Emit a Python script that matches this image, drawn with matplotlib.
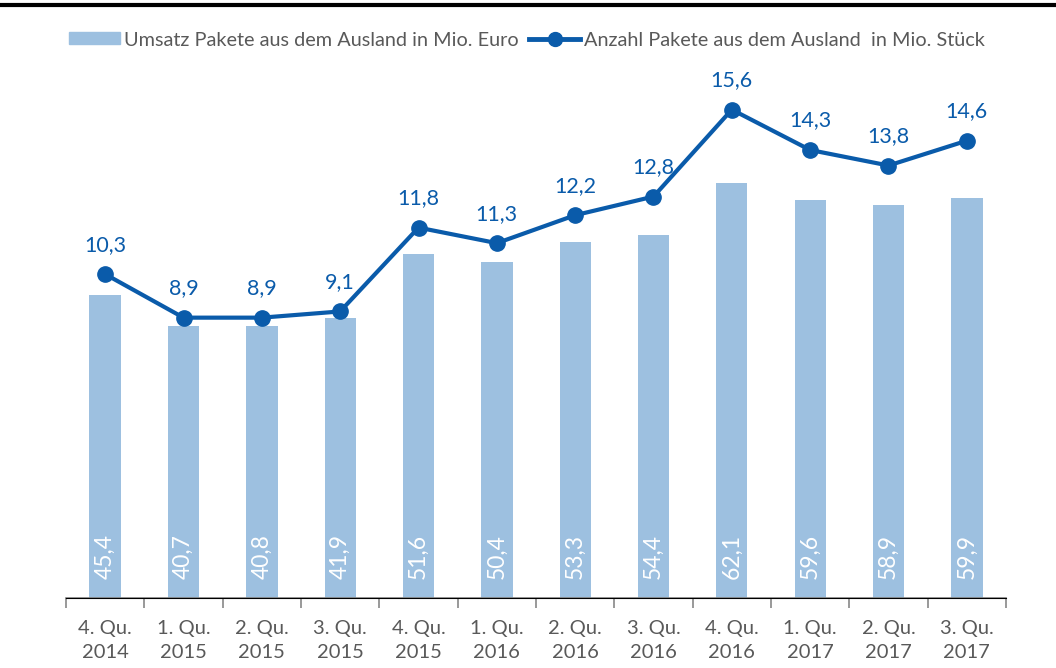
import matplotlib
matplotlib.use("Agg")
import matplotlib.pyplot as plt
from matplotlib.lines import Line2D
import numpy as np

categories = ["4. Qu.\n2014", "1. Qu.\n2015", "2. Qu.\n2015", "3. Qu.\n2015", "4. Qu.\n2015",
              "1. Qu.\n2016", "2. Qu.\n2016", "3. Qu.\n2016", "4. Qu.\n2016", "1. Qu.\n2017",
              "2. Qu.\n2017", "3. Qu.\n2017"]
umsatz = [45.4, 40.7, 40.8, 41.9, 51.6, 50.4, 53.3, 54.4, 62.1, 59.6, 58.9, 59.9]
anzahl = [10.3, 8.9, 8.9, 9.1, 11.8, 11.3, 12.2, 12.8, 15.6, 14.3, 13.8, 14.6]

bar_color = "#9DC0E0"
line_color = "#0A5BAA"
text_gray = "#595959"
font = ["Lato", "DejaVu Sans"]
plt.rcParams["font.family"] = font

fig = plt.figure(figsize=(10.56, 6.68), dpi=100)
ax = fig.add_axes([66/1056, 70/668, 940/1056, 534/668])
x = np.arange(len(categories))
ax.bar(x, umsatz, width=0.4, color=bar_color, zorder=1)
ax.set_xlim(-0.5, len(categories) - 0.5)
ax.set_ylim(0, 80)
for xi, v in zip(x, umsatz):
    ax.text(xi, 2.9, f"{v:.1f}".replace(".", ","), rotation=90, ha="center", va="bottom",
            color="white", fontsize=16.5)

ax2 = ax.twinx()
ax2.set_ylim(-0.13, 17.07)
ax2.plot(x, anzahl, color=line_color, lw=3, marker="o", ms=11, zorder=3)
for xi, v in zip(x, anzahl):
    ax2.annotate(f"{v:.1f}".replace(".", ","), (xi, v), xytext=(0, 14), textcoords="offset points",
                 ha="center", va="bottom", color=line_color, fontsize=15.5)

for a in (ax, ax2):
    for s in ("top", "right", "left"):
        a.spines[s].set_visible(False)
    a.set_yticks([])
ax.spines["bottom"].set_color("#888888")
ax.spines["bottom"].set_linewidth(1.2)
ax.set_xticks(x)
ax.set_xticklabels(categories, color=text_gray, fontsize=14.5, linespacing=1.45)
ax.tick_params(axis="x", length=0, pad=16)
ax.set_xticks(np.arange(-0.5, len(categories) + 0.5, 1), minor=True)
ax.tick_params(axis="x", which="minor", length=7, color="#888888", width=1.2)

# top rule
fig.add_artist(Line2D([0, 1], [1 - 5/668, 1 - 5/668], color="black", lw=3, transform=fig.transFigure))

handles = [plt.Rectangle((0, 0), 1, 1, color=bar_color),
           Line2D([], [], color=line_color, lw=3.5, marker="o", ms=10)]
labels = ["Umsatz Pakete aus dem Ausland in Mio. Euro", "Anzahl Pakete aus dem Ausland  in Mio. Stück"]
fig.legend(handles, labels, loc="center", bbox_to_anchor=(527/1056, 1 - 40/668), ncol=2, frameon=False,
           fontsize=14.3, handlelength=2.6, handleheight=0.55, handletextpad=0.2, columnspacing=0.5,
           labelcolor=text_gray)

fig.savefig("out.png", dpi=100)
